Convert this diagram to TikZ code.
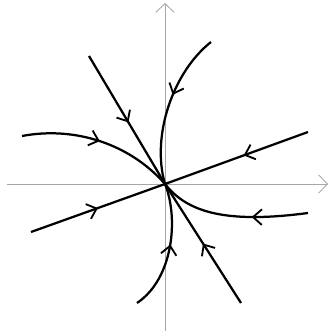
\documentclass[tikz,border=0pt]{standalone}
\usetikzlibrary{arrows.meta,decorations.markings}

\tikzset{
  axis/.style={gray!70, line width=0.6pt, -{Straight Barb[length=2.2mm,width=4.6mm]}},
  orbit/.style={line width=1.6pt},
  midarrow/.style={postaction={decorate}, decoration={markings,
      mark=at position #1 with {\arrow{Straight Barb[length=2.2mm,width=3.9mm,line width=1.3pt]}}}}
}

\begin{document}
\begin{tikzpicture}[x=0.025cm,y=0.025cm]
  \useasboundingbox (-165,-147) rectangle (165,184);
  \coordinate (O) at (0,0);

  % --- axes ---
  \draw[axis] (-158,0) -- (163,0);
  \draw[axis] (0,-147) -- (0,181);

  % --- straight orbits (eigenlines) ---
  \draw[orbit, midarrow=0.52] (-76,128) -- (O);
  \draw[orbit, midarrow=0.5] (76,-119) -- (O);
  \draw[orbit, midarrow=0.5] (-134,-48) -- (O);
  \draw[orbit, midarrow=0.45] (143,52) -- (O);

  % --- curved orbits ---
  \draw[orbit, midarrow=0.42] (46,142) .. controls (8,112) and (-14,48) .. (O);
  \draw[orbit, midarrow=0.5] (-143,48) .. controls (-90,58) and (-35,40) .. (O);
  \draw[orbit, midarrow=0.37] (143,-29) .. controls (60,-40) and (22,-28) .. (O);
  \draw[orbit, midarrow=0.53] (-28,-119) .. controls (8,-95) and (14,-35) .. (O);
\end{tikzpicture}
\end{document}
